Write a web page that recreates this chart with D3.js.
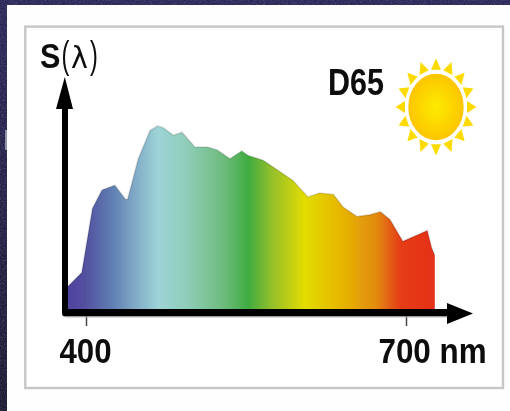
<!DOCTYPE html>
<html><head><meta charset="utf-8">
<script src="https://cdn.jsdelivr.net/npm/d3@7"></script>
<style>html,body{margin:0;padding:0;background:#2b2960;overflow:hidden}svg{display:block}</style>
</head><body><svg id="c" width="510" height="411"></svg>
<script>
const wavelengths=[383,396,406,415,427,437,439,449,460,467,472,482,490,502,514,523,535,546,552,566,579,594,608,619,632,641,654,666,676,685,697,720,724,727];
const spectrum=[15,24,65,77,80,71,71,97,115,118,117,112,114,104.5,104.5,102.5,97,102,99,96,90,83,72.5,75,74,66,60,61,63,58,44,51,40,35];
const tickValues=[400,700];
const tickLabels=["400","700 nm"];
const colourNm=[383,400,425,445,468,495,530,552,575,605,640,672,695,727];
const colourHex=["#4f429f","#53519f","#5f7fb3","#7fa8c6","#9dd4d7","#8fcdb8","#6dbb7b","#3fac40","#96c02a","#e3dc00","#e6b500","#e28b10","#e53c16","#e5301a"];

const svg=d3.select("#c");
const x=d3.scaleLinear().domain([400,700]).range([86,406]);
const y=d3.scaleLinear().domain([0,100]).range([310,154]);
const defs=svg.append("defs");

const bg=defs.append("linearGradient").attr("id","bg").attr("x1",0).attr("x2",0).attr("y1",0).attr("y2",1);
bg.append("stop").attr("offset",0).attr("stop-color","#2a2759");
bg.append("stop").attr("offset",1).attr("stop-color","#1b1930");
const spec=defs.append("linearGradient").attr("id","spec").attr("gradientUnits","userSpaceOnUse")
  .attr("x1",x(colourNm[0])).attr("x2",x(colourNm[colourNm.length-1])).attr("y1",0).attr("y2",0);
const span=colourNm[colourNm.length-1]-colourNm[0];
colourNm.forEach((n,i)=>spec.append("stop").attr("offset",(n-colourNm[0])/span).attr("stop-color",colourHex[i]));
const sunG=defs.append("radialGradient").attr("id","sun");
sunG.append("stop").attr("offset",0).attr("stop-color","#fdec00");
sunG.append("stop").attr("offset",1).attr("stop-color","#fcc400");
defs.append("filter").attr("id","soft").attr("x","-5%").attr("y","-5%").attr("width","110%").attr("height","110%")
  .append("feGaussianBlur").attr("stdDeviation",0.7);
defs.append("filter").attr("id","softText").attr("x","-5%").attr("y","-10%").attr("width","110%").attr("height","120%")
  .append("feGaussianBlur").attr("stdDeviation",0.4);
const grain=defs.append("filter").attr("id","grain").attr("x",0).attr("y",0).attr("width","100%").attr("height","100%");
grain.append("feTurbulence").attr("type","fractalNoise").attr("baseFrequency",0.7).attr("numOctaves",2).attr("seed",4);
grain.append("feColorMatrix").attr("type","matrix").attr("values","0 0 0 0 0.6  0 0 0 0 0.6  0 0 0 0 0.8  1.2 0 0 0 -0.45");

svg.append("rect").attr("width",510).attr("height",411).attr("fill","url(#bg)");
svg.append("rect").attr("width",510).attr("height",411).attr("filter","url(#grain)").attr("opacity",.35);
svg.append("rect").attr("x",5).attr("y",130).attr("width",2).attr("height",20).attr("fill","#8e93a8");
svg.append("rect").attr("x",7).attr("y",5).attr("width",503).attr("height",406).attr("fill","#fefefe");
svg.append("rect").attr("x",25.3).attr("y",26.6).attr("width",477.7).attr("height",361.4)
  .attr("fill","#fff").attr("stroke","#c6c6c6").attr("stroke-width",2.4);

// spectrum
const pts=wavelengths.map((w,i)=>[w,spectrum[i]]);
const plot=svg.append("g").attr("filter","url(#soft)");
plot.append("path").datum(pts).attr("fill","url(#spec)")
  .attr("d",d3.area().x(d=>x(d[0])).y0(y(0)).y1(d=>y(d[1])));
plot.append("path").datum(pts).attr("fill","none").attr("stroke","#000").attr("stroke-opacity",.13).attr("stroke-width",1.6)
  .attr("d",d3.line().x(d=>x(d[0])).y(d=>y(d[1])));

// axes
const axisG=svg.append("g").attr("filter","url(#softText)");
const fontFam="'Liberation Sans',Arial,sans-serif";
const axisY=312.5;
const ax=axisG.append("g").attr("transform",`translate(0,${axisY})`)
  .call(d3.axisBottom(x).tickValues(tickValues).tickSize(13.5).tickFormat((d,i)=>tickLabels[i]));
ax.select(".domain").remove();
ax.selectAll(".tick line").attr("stroke","#444").attr("stroke-width",1.5);
ax.selectAll(".tick text")
  .attr("y",0).attr("dy",null)
  .attr("font-family",fontFam).attr("font-weight",700).attr("font-size",35).attr("fill","#0a0a0a")
  .attr("lengthAdjust","spacingAndGlyphs")
  .each(function(d,i){
    const t=d3.select(this);
    if(i===0){t.attr("transform",`translate(-1,${363-axisY})`).attr("text-anchor","middle").attr("textLength",52);}
    else{t.attr("transform",`translate(-28,${363-axisY})`).attr("text-anchor","start").attr("textLength",108);}
  });
axisG.append("path").attr("fill","#000")
  .attr("d","M62,109H56L64.8,77L73,109H68V309H447V303L473,313.5L447,324V316.5H65Q62,316.5 62,313Z");
axisG.append("line").attr("x1",65).attr("x2",447).attr("y1",317).attr("y2",317).attr("stroke","#bbb").attr("stroke-width",1);

// texts
const labels=svg.append("g").attr("filter","url(#softText)").attr("font-family",fontFam).attr("fill","#0a0a0a");
const title=[
  {t:"S",x:40,sx:.85,fs:36,fw:700,ff:fontFam},
  {t:"(",x:61.5,sx:.62,fs:38,fw:400,ff:fontFam},
  {t:"λ",x:71,sx:.95,fs:30,fw:400,ff:"'DejaVu Sans',sans-serif"},
  {t:")",x:90,sx:.62,fs:38,fw:400,ff:fontFam}
];
labels.selectAll("text.title").data(title).join("text").attr("class","title")
  .attr("transform",d=>`translate(${d.x},68) scale(${d.sx},1)`).attr("font-size",d=>d.fs)
  .attr("font-weight",d=>d.fw).attr("font-family",d=>d.ff).text(d=>d.t);
labels.append("text").attr("x",328).attr("y",95).attr("font-size",36).attr("font-weight",700)
  .attr("textLength",56).attr("lengthAdjust","spacingAndGlyphs").text("D65");

// sun
const sun=svg.append("g").attr("transform","translate(436,107)").attr("filter","url(#softText)");
const rayAngles=d3.range(16).map(i=>i*22.5);
sun.selectAll("path").data(rayAngles).join("path").attr("fill","#fedb00")
  .attr("d",a=>{
    const r=a*Math.PI/180, dx=Math.cos(r), dy=Math.sin(r), ox=-dy, oy=dx;
    const P=(rad,off)=>[(rad*dx+off*ox),(rad*dy+off*oy)*1.2];
    const b1=P(31,5), b2=P(31,-5), t=P(40.5,0);
    return `M${b1}L${t}L${b2}Z`;
  });
sun.append("ellipse").attr("rx",28.5).attr("ry",34).attr("fill","url(#sun)").attr("stroke","#fff").attr("stroke-width",1.6);
</script></body></html>
